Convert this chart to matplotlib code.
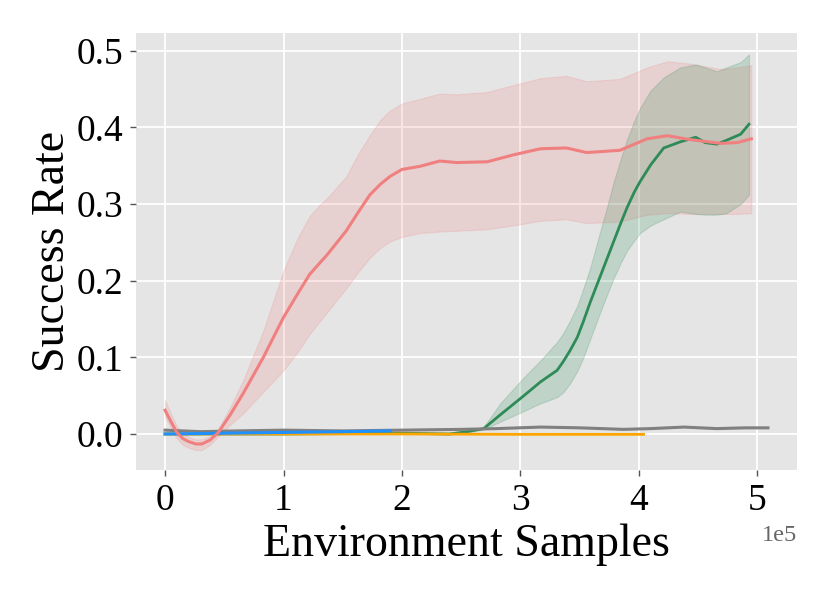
import matplotlib
matplotlib.use("Agg")
import matplotlib.pyplot as plt

# --------------------------------------------------------------------------- #
# Data (x in units of 1e5 samples)
# --------------------------------------------------------------------------- #
red_x = [0.0, 0.05, 0.10, 0.15, 0.20, 0.26, 0.31, 0.38, 0.45, 0.55, 0.66, 0.83,
         1.0, 1.12, 1.22, 1.30, 1.37, 1.53, 1.63, 1.73, 1.82, 1.9, 2.0, 2.15,
         2.32, 2.46, 2.72, 2.94, 3.17, 3.39, 3.56, 3.84, 4.07, 4.24, 4.43, 4.69,
         4.83, 4.95]
red_mean = [0.031, 0.016, 0.002, -0.006, -0.010, -0.013, -0.013, -0.008, 0.002,
            0.025, 0.053, 0.100, 0.152, 0.183, 0.208, 0.222, 0.234, 0.265, 0.289,
            0.312, 0.326, 0.336, 0.345, 0.349, 0.356, 0.354, 0.355, 0.364, 0.372,
            0.373, 0.367, 0.370, 0.385, 0.389, 0.384, 0.379, 0.380, 0.385]
red_hi = [0.044, 0.026, 0.010, 0.001, -0.004, -0.007, -0.007, -0.003, 0.007,
          0.035, 0.070, 0.135, 0.213, 0.256, 0.284, 0.298, 0.308, 0.336, 0.365,
          0.390, 0.410, 0.422, 0.431, 0.437, 0.444, 0.443, 0.446, 0.455, 0.464,
          0.467, 0.460, 0.463, 0.478, 0.486, 0.483, 0.476, 0.478, 0.481]
red_lo = [0.022, 0.008, -0.006, -0.014, -0.018, -0.021, -0.021, -0.014, -0.003,
          0.012, 0.027, 0.055, 0.083, 0.107, 0.130, 0.146, 0.159, 0.190, 0.211,
          0.230, 0.243, 0.251, 0.257, 0.262, 0.264, 0.265, 0.267, 0.272, 0.278,
          0.280, 0.275, 0.277, 0.286, 0.288, 0.287, 0.287, 0.287, 0.288]

green_x = [0.0, 1.0, 2.0, 2.4, 2.55, 2.69, 2.83, 3.03, 3.17, 3.31, 3.36, 3.42, 3.48,
           3.53, 3.59, 3.67, 3.73, 3.79, 3.85, 3.90, 3.96, 4.01, 4.10, 4.21, 4.35,
           4.48, 4.56, 4.66, 4.74, 4.86, 4.93]
green_mean = [0.0, 0.0, 0.001, 0.0, 0.003, 0.007, 0.025, 0.050, 0.068, 0.083, 0.094,
              0.109, 0.126, 0.146, 0.172, 0.204, 0.228, 0.252, 0.276, 0.295, 0.315,
              0.329, 0.351, 0.373, 0.381, 0.387, 0.380, 0.378, 0.383, 0.391, 0.404]
green_hi = [0.0, 0.0, 0.001, 0.001, 0.004, 0.009, 0.040, 0.074, 0.096, 0.120, 0.131,
            0.148, 0.167, 0.189, 0.217, 0.262, 0.295, 0.330, 0.360, 0.384, 0.408,
            0.425, 0.448, 0.465, 0.478, 0.482, 0.478, 0.473, 0.478, 0.485, 0.495]
green_lo = [0.0, 0.0, 0.001, -0.001, 0.002, 0.006, 0.016, 0.030, 0.040, 0.048, 0.054,
            0.066, 0.082, 0.099, 0.124, 0.157, 0.181, 0.204, 0.224, 0.239, 0.252,
            0.262, 0.272, 0.280, 0.290, 0.287, 0.286, 0.286, 0.288, 0.300, 0.312]

gray_x = [0.0, 0.3, 0.6, 1.0, 1.5, 2.0, 2.5, 2.8, 3.17, 3.5, 3.87, 4.1, 4.38, 4.66,
          4.9, 5.09]
gray_y = [0.005, 0.003, 0.004, 0.005, 0.004, 0.005, 0.006, 0.007, 0.009, 0.008,
          0.006, 0.007, 0.009, 0.007, 0.008, 0.008]

blue_x = [0.0, 0.5, 1.0, 1.5, 1.9]
blue_y = [0.0, 0.001, 0.002, 0.003, 0.004]

orange_x = [0.0, 1.0, 2.0, 3.0, 4.04]
orange_y = [0.0, 0.0, 0.0, -0.0005, -0.0005]

xticks = [0, 1, 2, 3, 4, 5]
yticks = [0.0, 0.1, 0.2, 0.3, 0.4, 0.5]

# --------------------------------------------------------------------------- #
# Plot
# --------------------------------------------------------------------------- #
plt.rcParams["font.family"] = ["Liberation Serif", "DejaVu Serif"]

fig = plt.figure(figsize=(8.3, 5.93), dpi=100)
ax = fig.add_axes((0.1639, 0.2074, 0.7963, 0.737))
ax.set_facecolor("#E5E5E5")
for sp in ax.spines.values():
    sp.set_visible(False)
ax.grid(True, color="white", linewidth=1.3)
ax.set_axisbelow(True)

ax.fill_between(red_x, red_lo, red_hi, color="#F08080", alpha=0.2, linewidth=0.8)
ax.fill_between(green_x, green_lo, green_hi, color="#2E8B57", alpha=0.2, linewidth=0.8)
ax.plot(green_x, green_mean, color="#2E8B57", lw=2)
ax.plot(gray_x, gray_y, color="#808080", lw=2.2)
ax.plot(orange_x, orange_y, color="#FFA500", lw=2)
ax.plot(blue_x, blue_y, color="#1E90FF", lw=2.2)
ax.plot(red_x, red_mean, color="#F08080", lw=2.2)

ax.set_xlim(-0.245, 5.335)
ax.set_ylim(-0.047, 0.523)
ax.set_xticks(xticks)
ax.set_xticklabels([str(t) for t in xticks])
ax.set_yticks(yticks)
ax.set_yticklabels([f"{t:.1f}" for t in yticks])
ax.tick_params(axis="both", labelsize=27, color="#555555", length=4, width=1,
               labelcolor="black")
ax.tick_params(axis="x", pad=6)
ax.tick_params(axis="y", pad=5)

ax.set_xlabel("Environment Samples", fontsize=33, labelpad=3.5)
ax.set_ylabel("Success Rate", fontsize=33, labelpad=2)
ax.text(1.0, -0.125, "1e5", transform=ax.transAxes, ha="right", va="top",
        fontsize=17.5, color="#666666")

fig.savefig("out.png", dpi=100)
